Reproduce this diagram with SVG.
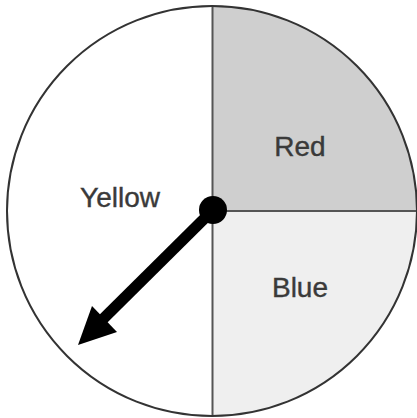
<svg xmlns="http://www.w3.org/2000/svg" width="417" height="418" viewBox="0 0 417 418">
<style>
.lbl{font-family:"Liberation Sans",Arial,sans-serif;font-size:28px;fill:#3a3a3a;stroke:#3a3a3a;stroke-width:0.4;text-anchor:middle}
.div{stroke:#555;stroke-width:2;fill:none}
</style>
<rect width="417" height="418" fill="#fff"/>
<g id="sector-red"><path d="M212.5,211 L212.5,6 A205,205 0 0 1 417.5,211 Z" fill="#cfcfcf"/><text class="lbl" x="300" y="156">Red</text></g>
<g id="sector-blue"><path d="M212.5,211 L417.5,211 A205,205 0 0 1 212.5,416 Z" fill="#efefef"/><text class="lbl" x="300" y="297">Blue</text></g>
<g id="sector-yellow"><text class="lbl" x="120" y="207">Yellow</text></g>
<g id="connectors">
<line class="div" x1="212.5" y1="6" x2="212.5" y2="416"/>
<line class="div" x1="212.5" y1="211" x2="417" y2="211"/>
</g>
<circle cx="212" cy="211" r="205" fill="none" stroke="#333" stroke-width="2"/>
<g id="spinner">
<line x1="212" y1="211" x2="100" y2="322" stroke="#000" stroke-width="11"/>
<polygon points="78,345 92,306 117,332" fill="#000"/>
<circle cx="213" cy="210" r="14" fill="#000"/>
</g>
</svg>
